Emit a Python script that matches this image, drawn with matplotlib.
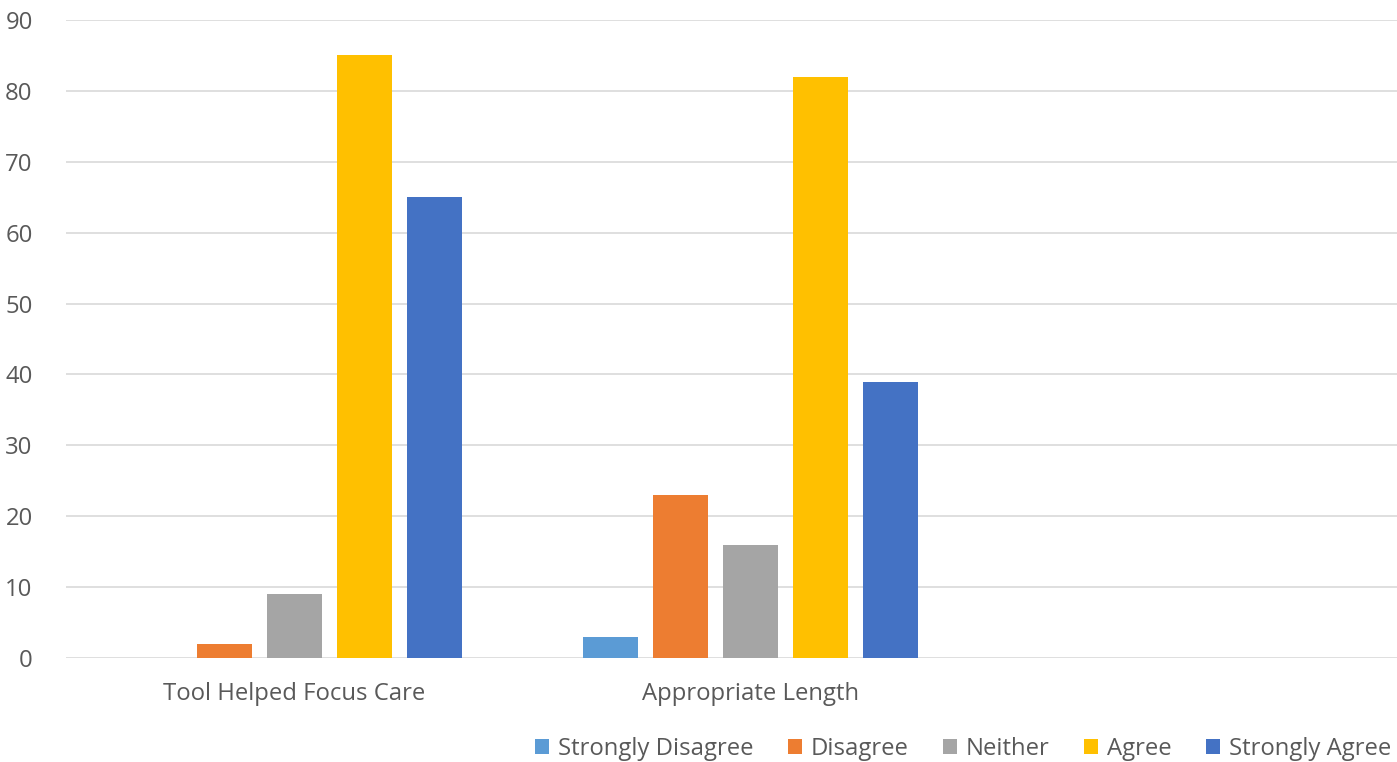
import matplotlib.pyplot as plt
import numpy as np

categories = ["Tool Helped Focus Care", "Appropriate Length"]
series = ["Strongly Disagree", "Disagree", "Neither", "Agree", "Strongly Agree"]
values = {
    "Strongly Disagree": [0, 3],
    "Disagree": [2, 23],
    "Neither": [9, 16],
    "Agree": [85, 82],
    "Strongly Agree": [65, 39],
}
colors = ["#5B9BD5", "#ED7D31", "#A5A5A5", "#FFC000", "#4472C4"]
yticks = list(range(0, 100, 10))

plt.rcParams['font.family'] = ['Open Sans', 'DejaVu Sans']
fig = plt.figure(figsize=(13.97, 7.62), dpi=100)
ax = fig.add_axes([66/1397, 1-658/762, 1-66/1397, (658-20)/762])

x = np.arange(len(categories))
step = 70/456
width = 55/456
for i, (s, c) in enumerate(zip(series, colors)):
    ax.bar(x + (i-2)*step, values[s], width=width, color=c, label=s, zorder=3)

ax.set_ylim(0, 90)
ax.set_xlim(-0.5, (1397-294.5)/456)
ax.set_yticks(yticks)
ax.set_xticks(x)
ax.set_xticklabels(categories)
ax.yaxis.grid(True, color="#D9D9D9", linewidth=1.2, zorder=0)
for sp in ax.spines.values():
    sp.set_visible(False)
ax.tick_params(axis='both', length=0, labelsize=17.2, labelcolor="#595959")
ax.tick_params(axis='y', pad=24)
ax.tick_params(axis='x', pad=17)

leg = fig.legend(loc='center right', bbox_to_anchor=(1391/1397, 1-749/762), ncol=5,
                 frameon=False, fontsize=17.2, handlelength=0.6, handleheight=0.6,
                 handletextpad=0.35, columnspacing=1.45, labelcolor="#595959",
                 borderpad=0, borderaxespad=0)
fig.savefig("out.png", dpi=100, facecolor="white")
